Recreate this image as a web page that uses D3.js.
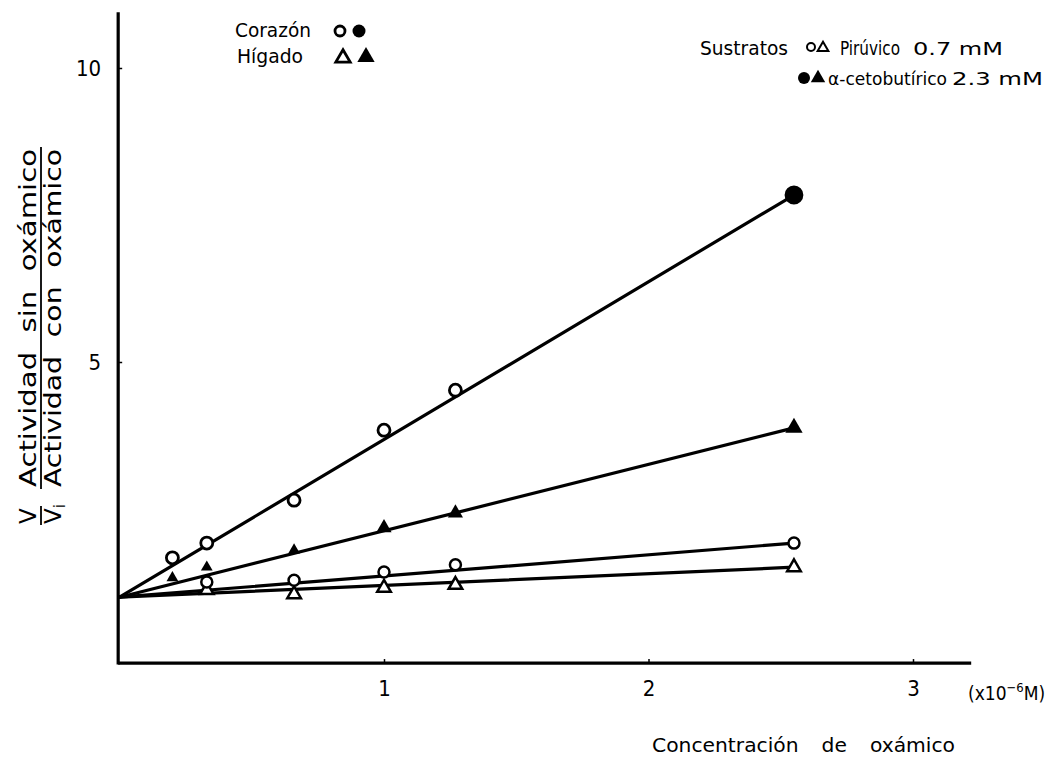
<!DOCTYPE html>
<html><head><meta charset="utf-8">
<script src="https://cdn.jsdelivr.net/npm/d3@7"></script>
<style>
body{margin:0;background:#fff}
text{font-family:"DejaVu Sans Condensed","DejaVu Sans",sans-serif;fill:#000}
</style>
</head><body>
<svg id="chart" width="1059" height="758"></svg>
<script>
// ---- data ----
const xTicks = [1, 2, 3];
const yTicks = [5, 10];
// Corazón, α-cetobutírico (circles, top line)
const corAlfaX = [0.2, 0.33, 0.66, 1.0, 1.27, 2.55];
const corAlfaY = [1.67, 1.92, 2.65, 3.84, 4.52, 7.84];
const corAlfaMarker = ["open", "open", "open", "open", "open", "filled"];
// Hígado, α-cetobutírico (filled triangles)
const higAlfaX = [0.2, 0.33, 0.66, 1.0, 1.27, 2.55];
const higAlfaY = [1.33, 1.51, 1.80, 2.18, 2.43, 3.88];
// Corazón, pirúvico (open circles)
const corPirX = [0.33, 0.66, 1.0, 1.27, 2.55];
const corPirY = [1.26, 1.29, 1.43, 1.55, 1.92];
// Hígado, pirúvico (open triangles)
const higPirX = [0.33, 0.66, 1.0, 1.27, 2.55];
const higPirY = [1.12, 1.05, 1.16, 1.21, 1.51];
// fitted straight lines (start at V/Vi = 1 with no inhibitor)
const fitX = [0, 2.55];
const corAlfaFit = [1, 7.84];
const higAlfaFit = [1, 3.88];
const corPirFit = [1, 1.92];
const higPirFit = [1, 1.51];

// ---- layout ----
const svg = d3.select("#chart");
const x = d3.scaleLinear().domain([0, 3]).range([119.5, 913]);
const y = d3.scaleLinear().domain([0, 10]).range([656, 68]);

function fitText(sel, len) {
  return sel.attr("textLength", len).attr("lengthAdjust", "spacingAndGlyphs");
}

// axes
const xAxisY = y(-0.12);
svg.append("line").attr("x1", x(-0.005)).attr("x2", x(3.22))
  .attr("y1", xAxisY).attr("y2", xAxisY)
  .attr("stroke", "#000").attr("stroke-width", 3.2);
svg.append("line").attr("x1", x(-0.005)).attr("x2", x(-0.005))
  .attr("y1", y(10.95)).attr("y2", xAxisY + 1.5)
  .attr("stroke", "#000").attr("stroke-width", 3.2);

const gx = svg.append("g").attr("transform", `translate(0,${xAxisY})`)
  .call(d3.axisBottom(x).tickValues(xTicks).tickSize(-4).tickPadding(17).tickFormat(d3.format("d")));
gx.select(".domain").remove();
gx.selectAll("line").attr("stroke", "#000").attr("stroke-width", 1.5);
gx.selectAll("text").style("font-size", "22px");

const gy = svg.append("g").attr("transform", `translate(${x(-0.005)},0)`)
  .call(d3.axisLeft(y).tickValues(yTicks).tickSize(-4).tickPadding(17).tickFormat(d3.format("d")));
gy.select(".domain").remove();
gy.selectAll("line").attr("stroke", "#000").attr("stroke-width", 1.5);
gy.selectAll("text").style("font-size", "22px");

// unit label
const unit = svg.append("text").attr("x", 968).attr("y", 700).style("font-size", "19px");
unit.append("tspan").text("(x10");
unit.append("tspan").attr("dy", -8).style("font-size", "13px").text("−6");
unit.append("tspan").attr("dy", 8).text("M)");

// x title
fitText(svg.append("text").attr("x", 652).attr("y", 752).style("font-size", "19px")
  .style("word-spacing", "14px").text("Concentración de oxámico"), 303);

// y title (rotated fraction)
const yl = svg.append("g").attr("transform", "translate(41,335) rotate(-90)");
yl.append("text").attr("x", -189).attr("y", -5).style("font-size", "23px").style("font-family", "DejaVu Sans").text("V");
yl.append("line").attr("x1", -190).attr("x2", -171).attr("y1", 0).attr("y2", 0).attr("stroke", "#000").attr("stroke-width", 1.8);
const vi = yl.append("text").attr("x", -189).attr("y", 20).style("font-size", "23px").style("font-family", "DejaVu Sans");
vi.append("tspan").text("V");
vi.append("tspan").attr("dy", 4).style("font-size", "15px").text("i");
fitText(yl.append("text").attr("x", -152).attr("y", -5).style("font-size", "23px").style("font-family", "DejaVu Sans")
  .style("word-spacing", "8px").text("Actividad sin oxámico"), 338);
yl.append("line").attr("x1", -154).attr("x2", 188).attr("y1", 0).attr("y2", 0).attr("stroke", "#000").attr("stroke-width", 1.8);
fitText(yl.append("text").attr("x", -152).attr("y", 20).style("font-size", "23px").style("font-family", "DejaVu Sans")
  .style("word-spacing", "8px").text("Actividad con oxámico"), 338);

// ---- lines ----
const lineGen = (vals) => d3.line().x((d, i) => x(fitX[i])).y(d => y(d))(vals);
[corAlfaFit, higAlfaFit, corPirFit, higPirFit].forEach(v => {
  svg.append("path").attr("d", lineGen(v)).attr("fill", "none")
    .attr("stroke", "#000").attr("stroke-width", 3.2).attr("stroke-linecap", "round");
});

// ---- markers ----
const tri = (s) => d3.symbol().type(d3.symbolTriangle).size(s)();
// open triangles
svg.append("g").selectAll("path").data(higPirX).join("path")
  .attr("transform", (d, i) => `translate(${x(d)},${y(higPirY[i])})`)
  .attr("d", tri(80)).attr("fill", "#fff").attr("stroke", "#000").attr("stroke-width", 2.5);
// open circles
svg.append("g").selectAll("circle").data(corPirX).join("circle")
  .attr("cx", d => x(d)).attr("cy", (d, i) => y(corPirY[i])).attr("r", 5.5)
  .attr("fill", "#fff").attr("stroke", "#000").attr("stroke-width", 2.5);
// filled triangles
svg.append("g").selectAll("path").data(higAlfaX).join("path")
  .attr("transform", (d, i) => `translate(${x(d)},${y(higAlfaY[i])})`)
  .attr("d", (d, i) => tri(i === higAlfaX.length - 1 ? 130 : (i < 3 ? 60 : 100))).attr("fill", "#000");
// top series circles
svg.append("g").selectAll("circle").data(corAlfaX).join("circle")
  .attr("cx", d => x(d)).attr("cy", (d, i) => y(corAlfaY[i]))
  .attr("r", (d, i) => corAlfaMarker[i] === "filled" ? 8 : 6)
  .attr("fill", (d, i) => corAlfaMarker[i] === "filled" ? "#000" : "#fff")
  .attr("stroke", "#000").attr("stroke-width", 2.8);

// ---- legends ----
fitText(svg.append("text").attr("x", 235).attr("y", 37).style("font-size", "19px").text("Corazón"), 76);
fitText(svg.append("text").attr("x", 237).attr("y", 63).style("font-size", "19px").text("Hígado"), 66);
svg.append("circle").attr("cx", 340).attr("cy", 31).attr("r", 5).attr("fill", "#fff").attr("stroke", "#000").attr("stroke-width", 2.8);
svg.append("circle").attr("cx", 359).attr("cy", 31).attr("r", 6.5).attr("fill", "#000");
svg.append("path").attr("transform", "translate(343,58)").attr("d", tri(90)).attr("fill", "#fff").attr("stroke", "#000").attr("stroke-width", 2.8);
svg.append("path").attr("transform", "translate(366,57)").attr("d", tri(130)).attr("fill", "#000");

fitText(svg.append("text").attr("x", 700).attr("y", 55).style("font-size", "19px").text("Sustratos"), 88);
svg.append("circle").attr("cx", 811).attr("cy", 47).attr("r", 4).attr("fill", "#fff").attr("stroke", "#000").attr("stroke-width", 2);
svg.append("path").attr("transform", "translate(823,48)").attr("d", tri(50)).attr("fill", "#fff").attr("stroke", "#000").attr("stroke-width", 2);
fitText(svg.append("text").attr("x", 840).attr("y", 55).style("font-size", "19px").text("Pirúvico"), 60);
fitText(svg.append("text").attr("x", 913).attr("y", 55).style("font-size", "18px").text("0.7 mM"), 90);
svg.append("circle").attr("cx", 804).attr("cy", 78).attr("r", 6).attr("fill", "#000");
svg.append("path").attr("transform", "translate(818,78)").attr("d", tri(90)).attr("fill", "#000");
fitText(svg.append("text").attr("x", 828).attr("y", 85).style("font-size", "18px").text("α-cetobutírico"), 119);
fitText(svg.append("text").attr("x", 952).attr("y", 85).style("font-size", "18px").text("2.3 mM"), 91);
</script>
</body></html>
